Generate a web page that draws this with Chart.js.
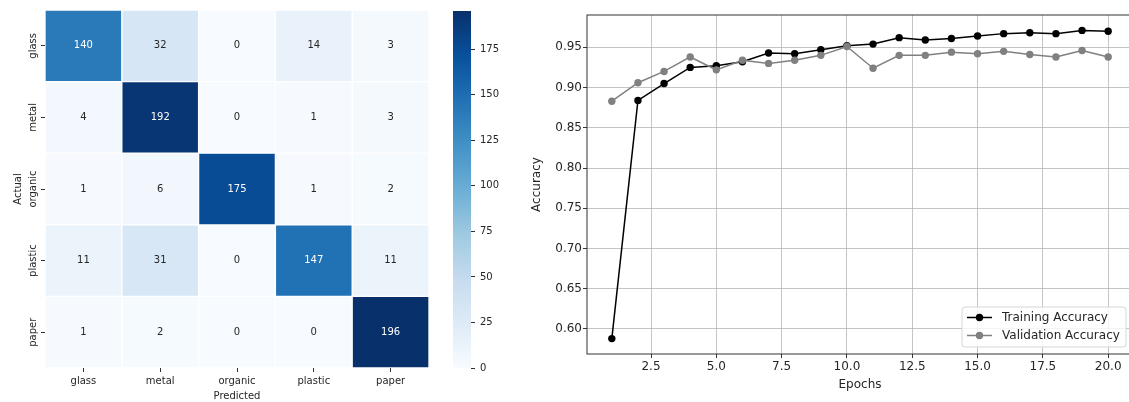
<!DOCTYPE html>
<html>
<head>
<meta charset="utf-8">
<script src="https://cdn.jsdelivr.net/npm/chart.js@4.4.1/dist/chart.umd.min.js"></script>
<style>
  html, body { margin: 0; padding: 0; background: #fff; overflow: hidden; width: 1129px; height: 402px; }
  canvas { position: absolute; top: 0; }
  #heat { left: 0; }
  #cbar { left: 440px; }
  #acc { left: 520px; }
</style>
</head>
<body>
<canvas id="heat" width="440" height="402"></canvas>
<canvas id="cbar" width="80" height="402"></canvas>
<canvas id="acc" width="620" height="402"></canvas>
<script>
// confusion matrix (rows = actual, cols = predicted)
const classes = ["glass", "metal", "organic", "plastic", "paper"];
const glassRow = [140, 32, 0, 14, 3];
const metalRow = [4, 192, 0, 1, 3];
const organicRow = [1, 6, 175, 1, 2];
const plasticRow = [11, 31, 0, 147, 11];
const paperRow = [1, 2, 0, 0, 196];
const colorbarTicks = [0, 25, 50, 75, 100, 125, 150, 175];

// accuracy curves
const epochs = [1, 2, 3, 4, 5, 6, 7, 8, 9, 10, 11, 12, 13, 14, 15, 16, 17, 18, 19, 20];
const trainAcc = [0.588, 0.884, 0.905, 0.925, 0.927, 0.932, 0.943, 0.942, 0.947, 0.952,
  0.954, 0.962, 0.959, 0.961, 0.964, 0.967, 0.968, 0.967, 0.971, 0.970];
const valAcc = [0.883, 0.906, 0.920, 0.938, 0.922, 0.934, 0.930, 0.934, 0.940, 0.951,
  0.924, 0.940, 0.940, 0.944, 0.942, 0.945, 0.941, 0.938, 0.946, 0.938];
const epochTicks = [2.5, 5, 7.5, 10, 12.5, 15, 17.5, 20];
const accTicks = [0.60, 0.65, 0.70, 0.75, 0.80, 0.85, 0.90, 0.95];

Chart.defaults.font.family = "'DejaVu Sans', sans-serif";
Chart.defaults.color = "#262626";

const BLUES = ["#f7fbff", "#deebf7", "#c6dbef", "#9ecae1", "#6baed6", "#4292c6", "#2171b5", "#08519c", "#08306b"];

function hexRgb(h) {
  return [parseInt(h.slice(1, 3), 16), parseInt(h.slice(3, 5), 16), parseInt(h.slice(5, 7), 16)];
}

function blues(t) {
  t = Math.max(0, Math.min(1, t));
  const p = t * 8;
  const i = Math.min(7, Math.floor(p));
  const f = p - i;
  const a = hexRgb(BLUES[i]), b = hexRgb(BLUES[i + 1]);
  const c = a.map((v, k) => Math.round(v + (b[k] - v) * f));
  return `rgb(${c[0]},${c[1]},${c[2]})`;
}

const rows = [glassRow, metalRow, organicRow, plasticRow, paperRow];
const vmax = Math.max(...rows.flat());

// value in each cell
const cellText = {
  id: "cellText",
  afterDatasetsDraw(chart) {
    const ctx = chart.ctx;
    ctx.save();
    ctx.font = "10px 'DejaVu Sans'";
    ctx.textAlign = "center";
    ctx.textBaseline = "middle";
    rows.forEach((row, r) => {
      chart.getDatasetMeta(r).data.forEach((bar, c) => {
        const p = bar.getCenterPoint();
        ctx.fillStyle = row[c] / vmax > 0.5 ? "#ffffff" : "#262626";
        ctx.fillText(String(row[c]), p.x, p.y);
      });
    });
    ctx.restore();
  }
};

// rotated row labels on the left
const rowLabels = {
  id: "rowLabels",
  afterDraw(chart) {
    const ctx = chart.ctx;
    const y = chart.scales.y;
    ctx.save();
    ctx.font = "10px 'DejaVu Sans'";
    ctx.fillStyle = "#262626";
    ctx.textAlign = "center";
    ctx.textBaseline = "middle";
    classes.forEach((name, i) => {
      ctx.save();
      ctx.translate(33, y.getPixelForValue(i + 0.5));
      ctx.rotate(-Math.PI / 2);
      ctx.fillText(name, 0, 0);
      ctx.restore();
    });
    ctx.restore();
  }
};

new Chart(document.getElementById("heat"), {
  type: "bar",
  data: {
    labels: classes,
    datasets: rows.map((row, r) => ({
      label: classes[r],
      data: row.map(() => [r, r + 1]),
      backgroundColor: (ctx) => blues(row[ctx.dataIndex] / vmax),
      borderColor: "rgba(255,255,255,0.35)",
      borderWidth: 1,
      borderSkipped: false,
      barPercentage: 1,
      categoryPercentage: 1,
      grouped: false
    }))
  },
  options: {
    responsive: false,
    animation: false,
    layout: { padding: { top: 10, right: 11, left: 0, bottom: 0 } },
    plugins: { legend: { display: false }, tooltip: { enabled: false } },
    scales: {
      x: {
        type: "category",
        offset: true,
        grid: { offset: false, drawOnChartArea: false, color: "#333", tickLength: 4 },
        border: { display: false },
        ticks: { font: { size: 10 }, padding: 3, maxRotation: 0 },
        title: { display: true, text: "Predicted", font: { size: 10 }, padding: { top: 0, bottom: 0 } },
        afterFit: (s) => { s.height = 34; }
      },
      y: {
        type: "linear",
        min: 0,
        max: 5,
        reverse: true,
        afterBuildTicks: (s) => { s.ticks = classes.map((c, i) => ({ value: i + 0.5 })); },
        grid: { drawOnChartArea: false, color: "#333", tickLength: 4 },
        border: { display: false },
        ticks: { display: false },
        title: { display: true, text: "Actual", font: { size: 10 }, padding: { top: 12, bottom: 0 } },
        afterFit: (s) => { s.width = 45; }
      }
    }
  },
  plugins: [cellText, rowLabels]
});

// colour bar
new Chart(document.getElementById("cbar"), {
  type: "bar",
  data: {
    labels: [""],
    datasets: [{
      data: [[0, vmax]],
      backgroundColor: (ctx) => {
        const area = ctx.chart.chartArea;
        if (!area) return BLUES[0];
        const g = ctx.chart.ctx.createLinearGradient(0, area.bottom, 0, area.top);
        BLUES.forEach((c, i) => g.addColorStop(i / 8, c));
        return g;
      },
      borderWidth: 0,
      barPercentage: 1,
      categoryPercentage: 1
    }]
  },
  options: {
    responsive: false,
    animation: false,
    layout: { padding: { top: 10, left: 13, bottom: 34, right: 0 } },
    plugins: { legend: { display: false }, tooltip: { enabled: false } },
    scales: {
      x: { display: false },
      y: {
        position: "right",
        min: 0,
        max: vmax,
        afterBuildTicks: (s) => { s.ticks = colorbarTicks.map((v) => ({ value: v })); },
        grid: { drawOnChartArea: false, color: "#333", tickLength: 4 },
        border: { display: false },
        ticks: { font: { size: 10 }, padding: 5 },
        afterFit: (s) => { s.width = 49; }
      }
    }
  }
});

// accuracy chart: frame and legend
const frame = {
  id: "frame",
  afterDatasetsDraw(chart) {
    const { left, top, width, height } = chart.chartArea;
    const ctx = chart.ctx;
    ctx.save();
    ctx.strokeStyle = "#333";
    ctx.lineWidth = 1;
    ctx.strokeRect(left, top, width, height);
    ctx.restore();
  }
};

const boxLegend = {
  id: "boxLegend",
  afterDraw(chart) {
    const ctx = chart.ctx;
    const { right, bottom } = chart.chartArea;
    const w = 164, h = 40;
    const x0 = right - 7 - w, y0 = bottom - 7 - h;
    ctx.save();
    ctx.beginPath();
    ctx.roundRect(x0, y0, w, h, 3);
    ctx.fillStyle = "rgba(255,255,255,0.8)";
    ctx.fill();
    ctx.strokeStyle = "#d6d6d6";
    ctx.lineWidth = 1;
    ctx.stroke();
    ctx.font = "12px 'DejaVu Sans'";
    ctx.textBaseline = "middle";
    ctx.textAlign = "left";
    chart.data.datasets.forEach((ds, i) => {
      const y = y0 + 10.5 + i * 18;
      ctx.strokeStyle = ds.borderColor;
      ctx.lineWidth = ds.borderWidth;
      ctx.beginPath();
      ctx.moveTo(x0 + 5, y);
      ctx.lineTo(x0 + 30, y);
      ctx.stroke();
      ctx.fillStyle = ds.pointBackgroundColor;
      ctx.beginPath();
      ctx.arc(x0 + 17.5, y, ds.pointRadius, 0, Math.PI * 2);
      ctx.fill();
      ctx.fillStyle = "#262626";
      ctx.fillText(ds.label, x0 + 40, y);
    });
    ctx.restore();
  }
};

const lo = Math.min(...trainAcc, ...valAcc);
const hi = Math.max(...trainAcc, ...valAcc);
const pad = (hi - lo) * 0.05;

new Chart(document.getElementById("acc"), {
  type: "line",
  data: {
    datasets: [
      {
        label: "Training Accuracy",
        data: epochs.map((e, i) => ({ x: e, y: trainAcc[i] })),
        borderColor: "#000000",
        pointBackgroundColor: "#000000",
        pointBorderColor: "#000000",
        borderWidth: 1.5,
        pointRadius: 3.7,
        pointBorderWidth: 0,
        order: 1
      },
      {
        label: "Validation Accuracy",
        data: epochs.map((e, i) => ({ x: e, y: valAcc[i] })),
        borderColor: "#808080",
        pointBackgroundColor: "#808080",
        pointBorderColor: "#808080",
        borderWidth: 1.5,
        pointRadius: 3.7,
        pointBorderWidth: 0,
        order: 0
      }
    ]
  },
  options: {
    responsive: false,
    animation: false,
    layout: { padding: { top: 15, right: 7, left: 0, bottom: 0 } },
    plugins: { legend: { display: false }, tooltip: { enabled: false } },
    scales: {
      x: {
        type: "linear",
        min: epochs[0] - (epochs[epochs.length - 1] - epochs[0]) * 0.05,
        max: epochs[epochs.length - 1] + (epochs[epochs.length - 1] - epochs[0]) * 0.05,
        afterBuildTicks: (s) => { s.ticks = epochTicks.map((v) => ({ value: v })); },
        grid: { color: "rgba(176,176,176,0.75)", tickColor: "#333", tickLength: 4 },
        border: { display: false },
        ticks: { font: { size: 12 }, padding: 2, maxRotation: 0, callback: (v) => v.toFixed(1) },
        title: { display: true, text: "Epochs", font: { size: 12 }, padding: { top: 0, bottom: 10 } },
        afterFit: (s) => { s.height = 48; }
      },
      y: {
        type: "linear",
        min: lo - pad,
        max: hi + pad,
        afterBuildTicks: (s) => { s.ticks = accTicks.map((v) => ({ value: v })); },
        grid: { color: "rgba(176,176,176,0.75)", tickColor: "#333", tickLength: 4 },
        border: { display: false },
        ticks: { font: { size: 12 }, padding: 1, callback: (v) => v.toFixed(2) },
        title: { display: true, text: "Accuracy", font: { size: 12 }, padding: { top: 10, bottom: 0 } },
        afterFit: (s) => { s.width = 67; }
      }
    }
  },
  plugins: [frame, boxLegend]
});
</script>
</body>
</html>
